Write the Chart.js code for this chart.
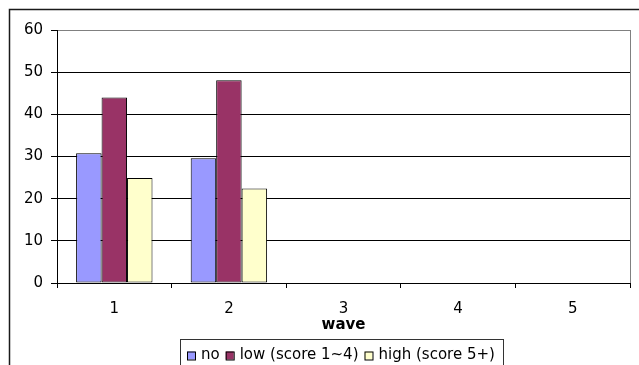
<!DOCTYPE html>
<html>
<head>
<meta charset="utf-8">
<script src="https://cdn.jsdelivr.net/npm/chart.js@4"></script>
<style>
  html, body { margin: 0; padding: 0; background: #fff; }
  canvas { display: block; }
</style>
</head>
<body>
<canvas id="waveChart" width="639" height="365"></canvas>
<script>
// Data
const waves = ['1', '2', '3', '4', '5'];
const noScore = [30.8, 29.6];
const lowScore = [44, 48.1];
const highScore = [24.9, 22.4];
const seriesNames = ['no', 'low (score 1~4)', 'high (score 5+)'];
const yTicks = [0, 10, 20, 30, 40, 50, 60];

const FONT = 'DejaVu Sans';

// frame, plot border and the boxed legend, drawn the Excel way
const excelFrame = {
    id: 'excelFrame',
    beforeDraw(chart) {
        const ctx = chart.ctx;
        ctx.save();
        ctx.fillStyle = '#fff';
        ctx.fillRect(0, 0, chart.width, chart.height);
        ctx.restore();
    },
    afterDraw(chart) {
        const ctx = chart.ctx;
        const area = chart.chartArea;
        ctx.save();

        // outer chart border (cropped on right and bottom)
        ctx.strokeStyle = '#1a1a1a';
        ctx.lineWidth = 1.5;
        ctx.strokeRect(9.5, 9.5, chart.width + 20, chart.height + 20);

        // plot area right border
        ctx.strokeStyle = '#808080';
        ctx.lineWidth = 1;
        ctx.beginPath();
        ctx.moveTo(Math.round(area.right) + 0.5, area.top);
        ctx.lineTo(Math.round(area.right) + 0.5, area.bottom);
        ctx.stroke();

        // legend box
        const boxLeft = 180, boxRight = 503, boxTop = 339;
        ctx.strokeStyle = '#333';
        ctx.strokeRect(boxLeft + 0.5, boxTop + 0.5, boxRight - boxLeft, 60);

        ctx.font = '15px "' + FONT + '"';
        ctx.textBaseline = 'middle';
        ctx.fillStyle = '#000';
        const cy = 355.5;
        let x = 187;
        chart.data.datasets.forEach(ds => {
            ctx.fillStyle = ds.backgroundColor;
            ctx.fillRect(x, cy - 4, 8, 8);
            ctx.strokeStyle = '#000';
            ctx.strokeRect(x + 0.5, cy - 3.5, 8, 8);
            ctx.fillStyle = '#000';
            ctx.fillText(ds.label, x + 14, cy);
            x += 14 + ctx.measureText(ds.label).width + 6;
        });
        ctx.restore();
    }
};

const ctx = document.getElementById('waveChart');
new Chart(ctx, {
    type: 'bar',
    data: {
        labels: waves,
        datasets: [
            {
                label: seriesNames[0],
                data: noScore,
                backgroundColor: '#9999FF',
                borderColor: '#000',
                borderWidth: 1,
                borderSkipped: false
            },
            {
                label: seriesNames[1],
                data: lowScore,
                backgroundColor: '#993366',
                borderColor: '#000',
                borderWidth: 1,
                borderSkipped: false
            },
            {
                label: seriesNames[2],
                data: highScore,
                backgroundColor: '#FFFFCC',
                borderColor: '#000',
                borderWidth: 1,
                borderSkipped: false
            }
        ]
    },
    options: {
        responsive: false,
        animation: false,
        devicePixelRatio: 1,
        layout: {
            padding: { top: 30, left: 0, right: 9, bottom: 0 }
        },
        datasets: {
            bar: {
                categoryPercentage: 3 / 4.5,
                barPercentage: 1
            }
        },
        scales: {
            x: {
                offset: true,
                grid: {
                    offset: true,
                    drawOnChartArea: false,
                    drawTicks: true,
                    tickLength: 5,
                    tickColor: '#000'
                },
                border: { display: true, color: '#000' },
                ticks: {
                    color: '#000',
                    padding: 12,
                    font: { family: FONT, size: 15 }
                },
                title: {
                    display: true,
                    text: 'wave',
                    color: '#000',
                    font: { family: FONT, size: 15, weight: 'bold' },
                    padding: { top: 0, bottom: 31 }
                },
                afterFit(scale) { scale.height = 82; }
            },
            y: {
                min: 0,
                max: 60,
                afterBuildTicks(scale) {
                    scale.ticks = yTicks.map(v => ({ value: v }));
                },
                grid: {
                    color: c => (c.tick && c.tick.value === 60 ? '#808080' : '#000'),
                    tickLength: 6,
                    tickColor: '#000'
                },
                border: { display: true, color: '#000' },
                ticks: {
                    color: '#000',
                    padding: 8,
                    font: { family: FONT, size: 15 }
                },
                afterFit(scale) { scale.width = 57; }
            }
        },
        plugins: {
            legend: { display: false },
            tooltip: { enabled: false }
        }
    },
    plugins: [excelFrame]
});
</script>
</body>
</html>
